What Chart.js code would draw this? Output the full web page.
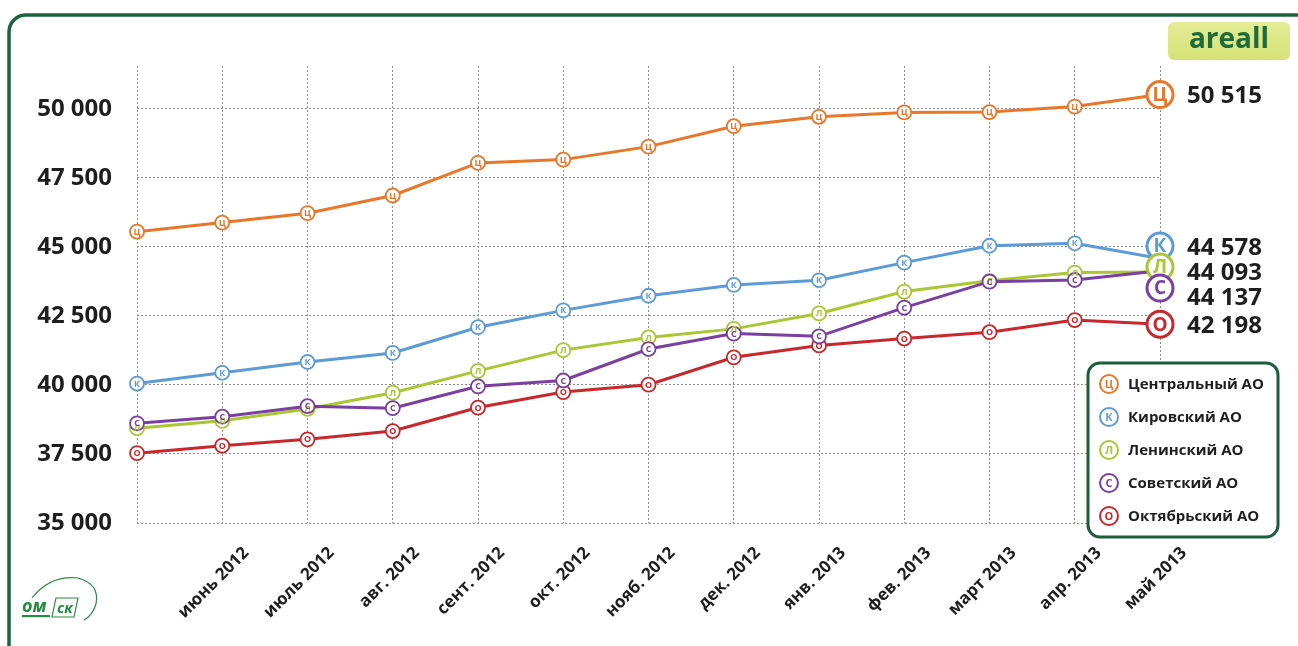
<!DOCTYPE html>
<html>
<head>
<meta charset="utf-8">
<script src="https://cdn.jsdelivr.net/npm/chart.js@4.4.0/dist/chart.umd.min.js"></script>
<style>
  html, body { margin: 0; padding: 0; background: #fff; overflow: hidden; }
  #wrap { position: relative; width: 1298px; height: 646px; }
</style>
</head>
<body>
<div id="wrap"><canvas id="c" width="1298" height="646"></canvas></div>
<script>
// Average price per square metre by district, May 2012 – May 2013
const months = ['май 2012', 'июнь 2012', 'июль 2012', 'авг. 2012', 'сент. 2012', 'окт. 2012',
  'нояб. 2012', 'дек. 2012', 'янв. 2013', 'фев. 2013', 'март 2013', 'апр. 2013', 'май 2013'];

const central = [45550, 45880, 46220, 46860, 48040, 48160, 48630, 49370, 49710, 49870, 49880, 50080, 50515];
const kirov   = [40050, 40440, 40830, 41160, 42090, 42700, 43230, 43620, 43790, 44430, 45040, 45130, 44578];
const lenin   = [38430, 38700, 39130, 39720, 40510, 41260, 41720, 42030, 42590, 43380, 43770, 44070, 44093];
const sovet   = [38610, 38850, 39230, 39160, 39950, 40160, 41300, 41860, 41760, 42800, 43740, 43800, 44137];
const oktyabr = [37530, 37800, 38030, 38330, 39180, 39740, 40010, 41000, 41430, 41680, 41910, 42350, 42198];

const districtNames = ['Центральный АО', 'Кировский АО', 'Ленинский АО', 'Советский АО', 'Октябрьский АО'];
const districtLetters = ['Ц', 'К', 'Л', 'С', 'О'];
const districtColors = ['#E8772A', '#5C9BD6', '#A9C633', '#7A3F9F', '#C8272C'];

const yTicks = [35000, 37500, 40000, 42500, 45000, 47500, 50000];

const FONT = '"Open Sans", "DejaVu Sans", sans-serif';
const fmt = v => String(Math.round(v)).replace(/\B(?=(\d{3})+(?!\d))/g, ' ');

const seriesValues = [central, kirov, lenin, sovet, oktyabr];
const drawOrder = [0, 1, 3, 2, 4];   // purple sits above green where they touch

const datasets = seriesValues.map((vals, i) => ({
  label: districtNames[i],
  data: vals,
  borderColor: districtColors[i],
  backgroundColor: '#ffffff',
  borderWidth: 3,
  tension: 0,
  order: drawOrder[i],
  pointRadius: ctx => ctx.dataIndex === vals.length - 1 ? 0 : 7,
  pointBorderWidth: 1.8,
  pointBorderColor: districtColors[i],
  pointBackgroundColor: '#ffffff',
  pointHoverRadius: 7
}));

function drawRoundRect(ctx, x, y, w, h, r) {
  ctx.beginPath();
  ctx.moveTo(x + r, y);
  ctx.lineTo(x + w - r, y);
  ctx.arcTo(x + w, y, x + w, y + r, r);
  ctx.lineTo(x + w, y + h - r);
  ctx.arcTo(x + w, y + h, x + w - r, y + h, r);
  ctx.lineTo(x + r, y + h);
  ctx.arcTo(x, y + h, x, y + h - r, r);
  ctx.lineTo(x, y + r);
  ctx.arcTo(x, y, x + r, y, r);
  ctx.closePath();
}

function badgeMarker(ctx, x, y, r, color, letter, lw, fontSize) {
  ctx.beginPath();
  ctx.arc(x, y, r, 0, Math.PI * 2);
  ctx.fillStyle = '#ffffff';
  ctx.fill();
  ctx.lineWidth = lw;
  ctx.strokeStyle = color;
  ctx.stroke();
  ctx.fillStyle = color;
  ctx.font = 'bold ' + fontSize + 'px ' + FONT;
  ctx.textAlign = 'center';
  ctx.textBaseline = 'middle';
  ctx.fillText(letter, x, y + 1);
}

const decorPlugin = {
  id: 'decor',
  beforeDraw(chart) {
    const ctx = chart.ctx;
    ctx.save();
    ctx.fillStyle = '#ffffff';
    ctx.fillRect(0, 0, chart.width, chart.height);

    // outer frame, open to the right and bottom
    ctx.beginPath();
    ctx.moveTo(chart.width + 5, 15);
    ctx.lineTo(26, 15);
    ctx.arcTo(9, 15, 9, 32, 17);
    ctx.lineTo(9, chart.height + 5);
    ctx.lineWidth = 3.5;
    ctx.strokeStyle = '#1B6442';
    ctx.stroke();

    // brand badge
    drawRoundRect(ctx, 1168, 22, 122, 38, 6);
    const g = ctx.createLinearGradient(0, 22, 0, 60);
    g.addColorStop(0, '#E4EC96');
    g.addColorStop(1, '#D5E276');
    ctx.fillStyle = g;
    ctx.fill();
    ctx.fillStyle = '#1F6B3A';
    ctx.font = 'bold 28px ' + FONT;
    ctx.textAlign = 'center';
    ctx.textBaseline = 'middle';
    ctx.fillText('areall', 1229, 40);

    // small city logo in the corner
    ctx.strokeStyle = '#2A8A45';
    ctx.lineWidth = 1.2;
    ctx.beginPath();
    ctx.moveTo(32, 598);
    ctx.quadraticCurveTo(50, 575, 78, 578);
    ctx.quadraticCurveTo(100, 584, 96, 604);
    ctx.quadraticCurveTo(92, 616, 84, 620);
    ctx.stroke();
    ctx.fillStyle = '#238A3F';
    ctx.font = 'italic bold 18px ' + FONT;
    ctx.textAlign = 'left';
    ctx.textBaseline = 'alphabetic';
    ctx.fillText('ом', 22, 612);
    ctx.fillRect(22, 615, 28, 2.2);
    ctx.beginPath();
    ctx.moveTo(56, 598); ctx.lineTo(78, 598); ctx.lineTo(74, 617); ctx.lineTo(52, 617); ctx.closePath();
    ctx.stroke();
    ctx.font = 'italic bold 15px ' + FONT;
    ctx.fillText('ск', 57, 613);
    ctx.restore();
  },
  afterDatasetsDraw(chart) {
    const ctx = chart.ctx;
    ctx.save();
    // letters inside the small point markers
    chart.data.datasets.forEach((ds, di) => {
      const meta = chart.getDatasetMeta(di);
      meta.data.forEach((pt, i) => {
        if (i === meta.data.length - 1) return;
        ctx.fillStyle = districtColors[di];
        ctx.font = 'bold 9px ' + FONT;
        ctx.textAlign = 'center';
        ctx.textBaseline = 'middle';
        ctx.fillText(districtLetters[di], pt.x, pt.y + 0.5);
      });
    });

    // end-of-line callouts: spread apart where values crowd together
    const ends = chart.data.datasets.map((ds, di) => {
      const meta = chart.getDatasetMeta(di);
      const pt = meta.data[meta.data.length - 1];
      return { di, x: pt.x, y: pt.y, value: ds.data[ds.data.length - 1] };
    });
    const markerGap = 21;
    const groups = [];
    ends.forEach(e => {
      const last = groups[groups.length - 1];
      const lastItem = last ? last[last.length - 1] : null;
      if (lastItem && e.y < lastItem.my + markerGap) {
        last.push(e);
      } else {
        groups.push([e]);
      }
      e.my = e.y;
      // restack the current group from its true centre
      const grp = groups[groups.length - 1];
      const mean = grp.reduce((s, it) => s + it.y, 0) / grp.length;
      const start = mean - (grp.length - 1) * markerGap / 2;
      if (grp.length > 1) grp.forEach((it, k) => { it.my = start + k * markerGap; });
    });
    const labelGap = 25;
    let prev = -Infinity;
    ends.forEach(e => {
      e.ly = Math.max(e.my + 2, prev + labelGap);
      prev = e.ly;
    });
    ends.forEach(e => {
      badgeMarker(ctx, e.x, e.my, 13, districtColors[e.di], districtLetters[e.di], 3, 19);
      ctx.fillStyle = '#1E1E1E';
      ctx.font = 'bold 24px ' + FONT;
      ctx.textAlign = 'left';
      ctx.textBaseline = 'middle';
      ctx.fillText(fmt(e.value), e.x + 27, e.ly);
    });
    ctx.restore();
  },
  afterDraw(chart) {
    const ctx = chart.ctx;
    ctx.save();
    // legend box
    drawRoundRect(ctx, 1088, 363, 190, 174, 12);
    ctx.fillStyle = '#ffffff';
    ctx.fill();
    ctx.lineWidth = 3;
    ctx.strokeStyle = '#1D5E3C';
    ctx.stroke();
    districtNames.forEach((name, i) => {
      const y = 384 + i * 33;
      badgeMarker(ctx, 1109, y, 9, districtColors[i], districtLetters[i], 2, 11);
      ctx.fillStyle = '#1E1E1E';
      ctx.font = 'bold 15px ' + FONT;
      ctx.textAlign = 'left';
      ctx.textBaseline = 'middle';
      ctx.fillText(name, 1128, y + 1);
    });
    ctx.restore();
  }
};

new Chart(document.getElementById('c'), {
  type: 'line',
  data: { labels: months, datasets },
  options: {
    responsive: false,
    animation: false,
    events: [],
    layout: { padding: { left: 0, right: 138, top: 66, bottom: 0 } },
    plugins: { legend: { display: false }, tooltip: { enabled: false } },
    scales: {
      x: {
        offset: false,
        grid: { color: '#8C8C8C', lineWidth: 1, drawTicks: false },
        border: { display: false, dash: [2, 2] },
        ticks: {
          autoSkip: false,
          maxRotation: 45,
          minRotation: 45,
          labelOffset: 24,
          padding: 20,
          color: '#1E1E1E',
          font: { family: FONT, size: 17, weight: 'bold' },
          callback: (v, i) => (i === 0 ? '' : months[i])
        },
        afterFit: s => { s.height = 123; }
      },
      y: {
        min: 35000,
        max: 51550,
        afterBuildTicks: s => { s.ticks = yTicks.map(v => ({ value: v })); },
        grid: { color: '#8C8C8C', lineWidth: 1, drawTicks: false },
        border: { display: false, dash: [2, 2] },
        ticks: {
          padding: 25,
          color: '#1E1E1E',
          font: { family: FONT, size: 24, weight: 'bold' },
          callback: v => fmt(v)
        },
        afterFit: s => { s.width = 137; }
      }
    }
  },
  plugins: [decorPlugin]
});
</script>
</body>
</html>
